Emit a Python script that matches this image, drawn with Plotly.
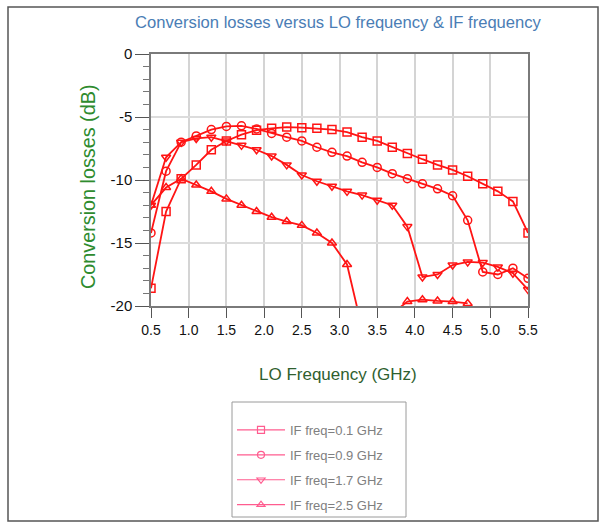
import plotly.graph_objects as go

# LO frequency (GHz)
lo_freq = [0.5, 0.7, 0.9, 1.1, 1.3, 1.5, 1.7, 1.9, 2.1, 2.3, 2.5, 2.7, 2.9,
           3.1, 3.3, 3.5, 3.7, 3.9, 4.1, 4.3, 4.5, 4.7, 4.9, 5.1, 5.3, 5.5]

# Conversion losses (dB) per IF frequency
if_01 = [-18.6, -12.5, -9.9, -8.8, -7.6, -6.9, -6.4, -6.05, -5.9, -5.8, -5.85, -5.9, -6.0,
         -6.2, -6.6, -6.9, -7.4, -7.9, -8.35, -8.8, -9.2, -9.7, -10.3, -10.9, -11.7, -14.2]
if_09 = [-14.2, -9.3, -7.0, -6.5, -6.0, -5.75, -5.7, -5.95, -6.3, -6.6, -6.9, -7.4, -7.8,
         -8.1, -8.6, -9.0, -9.5, -9.9, -10.3, -10.7, -11.25, -13.2, -17.3, -17.5, -17.0, -17.8]
if_17 = [-12.0, -8.2, -7.0, -6.7, -6.6, -6.9, -7.25, -7.6, -8.1, -8.8, -9.6, -10.1, -10.5,
         -10.9, -11.2, -11.6, -12.0, -13.7, -17.7, -17.5, -16.75, -16.5, -16.55, -16.9, -17.4, -18.7]
if_25 = [-12.0, -10.6, -9.9, -10.4, -10.9, -11.5, -12.0, -12.5, -12.95, -13.3, -13.6, -14.2, -15.0,
         -16.7, -21.8, -22.5, -20.6, -19.65, -19.5, -19.6, -19.65, -19.8, None, None, None, None]

series_names = ["IF freq=0.1 GHz", "IF freq=0.9 GHz", "IF freq=1.7 GHz", "IF freq=2.5 GHz"]
series_values = [if_01, if_09, if_17, if_25]
symbols = ["square-open", "circle-open", "triangle-down-open", "triangle-up-open"]

x_ticks = [0.5, 1.0, 1.5, 2.0, 2.5, 3.0, 3.5, 4.0, 4.5, 5.0, 5.5]
x_tick_labels = ["0.5", "1.0", "1.5", "2.0", "2.5", "3.0", "3.5", "4.0", "4.5", "5.0", "5.5"]
y_ticks = [0, -5, -10, -15, -20]
y_tick_labels = ["0", "-5", "-10", "-15", "-20"]

RED = "#ff1414"
PINK = "#ff5c8f"
FONT = "Liberation Sans, Arial, sans-serif"

fig = go.Figure()
for name, ys, sym in zip(series_names, series_values, symbols):
    fig.add_trace(go.Scatter(
        x=lo_freq, y=ys, mode="lines+markers", showlegend=False,
        line=dict(color=RED, width=1.8),
        marker=dict(symbol=sym, size=8, color=RED, line=dict(width=1.5, color=RED)),
    ))
for i, (name, sym) in enumerate(zip(series_names, symbols)):
    fig.add_trace(go.Scatter(
        x=[None], y=[None], mode="lines+markers", name=name, legendgroup=f"g{i}",
        line=dict(color=PINK, width=1.2),
        marker=dict(symbol=sym, size=7, color=PINK, line=dict(width=1.2, color=PINK)),
    ))

W, H = 607, 523
L, R, T, B = 151, 79, 54, 217
pw, ph = W - L - R, H - T - B

def px(xp):
    return (xp - L) / pw

def py(yp):
    return (H - B - yp) / ph

fig.update_layout(
    width=W, height=H, autosize=False,
    margin=dict(l=L, r=R, t=T, b=B, autoexpand=False),
    paper_bgcolor="white", plot_bgcolor="white",
    font=dict(family=FONT, color="#111"),
    title=dict(text="Conversion losses versus LO frequency & IF frequency",
               x=338 / W, xanchor="center", y=1 - 22 / H, yanchor="middle",
               font=dict(size=16.6, color="#4a7db5", family=FONT)),
    xaxis=dict(range=[0.5, 5.5], tickvals=x_ticks, ticktext=x_tick_labels,
               showgrid=True, gridcolor="#d4d4d4", gridwidth=1.5,
               showline=True, linecolor="#7a7a7a", linewidth=1.5, mirror=True,
               ticks="outside", ticklen=10, tickcolor="#555",
               tickfont=dict(size=14, color="#111"), zeroline=False),
    yaxis=dict(range=[-20, 0], tickvals=y_ticks, ticktext=y_tick_labels,
               showgrid=True, gridcolor="#dcdcdc", gridwidth=1.5,
               showline=True, linecolor="#7a7a7a", linewidth=1.5, mirror=True,
               ticks="outside", ticklen=14, tickcolor="#555",
               minor=dict(dtick=1, ticks="outside", ticklen=6, tickcolor="#777", showgrid=False),
               tickfont=dict(size=15, color="#111"), zeroline=False),
    legend=dict(x=px(232), y=py(415), xanchor="left", yanchor="top",
                borderwidth=0, bgcolor="rgba(0,0,0,0)",
                font=dict(size=13, color="#808080", family=FONT),
                tracegroupgap=5, itemwidth=48),
    annotations=[
        dict(text="Conversion losses (dB)", textangle=-90, showarrow=False,
             xref="paper", yref="paper", x=px(88), y=py(187),
             xanchor="center", yanchor="middle",
             font=dict(size=19.8, color="#2e8b2e", family=FONT)),
        dict(text="LO Frequency (GHz)", showarrow=False,
             xref="paper", yref="paper", x=px(338), y=py(374),
             xanchor="center", yanchor="middle",
             font=dict(size=17, color="#2f5f2f", family=FONT)),
    ],
    shapes=[
        dict(type="rect", xref="paper", yref="paper",
             x0=px(8), x1=px(598), y0=py(521), y1=py(7),
             line=dict(color="#555", width=1.5), layer="below"),
        dict(type="rect", xref="paper", yref="paper",
             x0=px(232), x1=px(406), y0=py(517), y1=py(402),
             line=dict(color="#9a9a9a", width=1), layer="below"),
    ],
)

fig.write_html("out.html")
